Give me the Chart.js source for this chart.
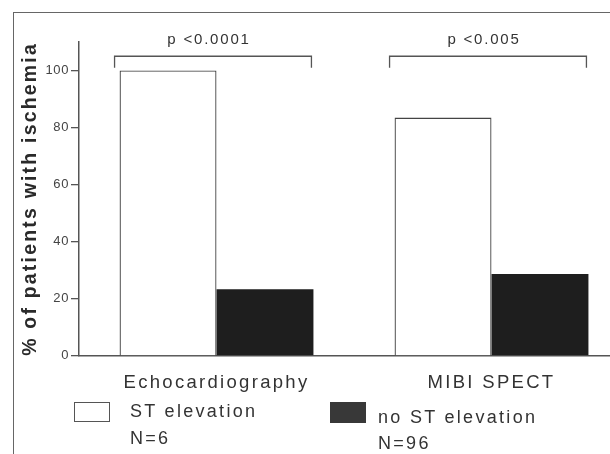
<!DOCTYPE html>
<html>
<head>
<meta charset="utf-8">
<script src="https://cdn.jsdelivr.net/npm/chart.js@4/dist/chart.umd.min.js"></script>
<style>
  html, body { margin: 0; padding: 0; background: #fff; }
  body { width: 610px; height: 454px; overflow: hidden; position: relative; font-family: "Liberation Sans", Arial, sans-serif; }
  #frame { position: absolute; left: 13px; top: 12px; width: 700px; height: 500px; border-top: 1.5px solid #666; border-left: 1.5px solid #666; }
  #wrap { position: absolute; left: 0; top: 0; width: 632px; height: 454px; }
  .leg .box { position: absolute; box-sizing: border-box; }
  .leg .txt { position: absolute; color: #333; font-size: 18px; letter-spacing: 2.3px; white-space: nowrap; }
  .leg0 .box { left: 74px; top: 402px; width: 36px; height: 20px; border: 1.5px solid #555; }
  .leg0 .txt { left: 130px; top: 397.5px; line-height: 27px; }
  .leg1 .box { left: 330px; top: 402px; width: 36px; height: 21px; }
  .leg1 .txt { left: 378px; top: 403.5px; line-height: 26px; }
</style>
</head>
<body>
<div id="frame"></div>
<div id="wrap"><canvas id="chart" width="632" height="454"></canvas></div>
<div id="legend"></div>
<script>
const categories = ['Echocardiography', 'MIBI SPECT'];
const seriesNames = ['ST elevation', 'no ST elevation'];
const seriesN = ['N=6', 'N=96'];
const stElevation = [100, 83.5];
const noStElevation = [23.3, 28.7];
const pValues = ['p <0.0001', 'p <0.005'];
const yTicks = [0, 20, 40, 60, 80, 100];

Chart.defaults.font.family = '"Liberation Sans", Arial, sans-serif';

// wide letter spacing like the old print, smaller for the y tick numbers
const spacing = {
    id: 'spacing',
    beforeLayout(chart) {
        chart.ctx.letterSpacing = '2.3px';
    },
    beforeDraw(chart) {
        chart.ctx.letterSpacing = '2.3px';
    },
    afterDatasetsDraw(chart) {
        chart.ctx.letterSpacing = '0.6px';
    }
};

const brackets = {
    id: 'brackets',
    afterDraw(chart) {
        const ctx = chart.ctx;
        const y = chart.scales.y;
        const m0 = chart.getDatasetMeta(0).data;
        const m1 = chart.getDatasetMeta(1).data;
        ctx.save();
        ctx.strokeStyle = '#555';
        ctx.lineWidth = 1.3;
        ctx.fillStyle = '#333';
        ctx.font = '15px "Liberation Sans", Arial, sans-serif';
        ctx.letterSpacing = '1.8px';
        ctx.textAlign = 'center';
        ctx.textBaseline = 'middle';
        pValues.forEach((p, i) => {
            const x1 = m0[i].x - m0[i].width / 2 - 5;
            const x2 = m1[i].x + m1[i].width / 2 - 2;
            const yTop = y.getPixelForValue(105);
            const yEnd = y.getPixelForValue(101);
            ctx.beginPath();
            ctx.moveTo(x1, yEnd);
            ctx.lineTo(x1, yTop);
            ctx.lineTo(x2, yTop);
            ctx.lineTo(x2, yEnd);
            ctx.stroke();
            ctx.fillText(p, (x1 + x2) / 2 - 4, y.getPixelForValue(110.7));
        });
        ctx.restore();
    }
};

const chart = new Chart(document.getElementById('chart'), {
    type: 'bar',
    data: {
        labels: categories,
        datasets: [{
            label: seriesNames[0],
            data: stElevation,
            backgroundColor: '#ffffff',
            borderColor: '#444',
            borderWidth: 1.3,
            borderSkipped: 'bottom'
        }, {
            label: seriesNames[1],
            data: noStElevation,
            backgroundColor: '#1e1e1e',
            borderWidth: 0
        }]
    },
    options: {
        responsive: false,
        animation: false,
        layout: {
            padding: { left: 0, top: 42, right: 3, bottom: 44 }
        },
        datasets: {
            bar: { categoryPercentage: 0.705, barPercentage: 1 }
        },
        scales: {
            x: {
                offset: true,
                grid: { display: false, drawTicks: false },
                border: { color: '#555', width: 1.5 },
                ticks: { padding: 16, color: '#333', font: { size: 18.5 }, maxRotation: 0, autoSkip: false }
            },
            y: {
                min: 0,
                max: 110,
                afterBuildTicks: (scale) => {
                    scale.ticks = yTicks.map(v => ({ value: v }));
                },
                afterFit: (scale) => {
                    scale.width = 33;
                },
                grid: { drawOnChartArea: false, drawTicks: true, tickLength: 8, color: '#555', lineWidth: 1.3 },
                border: { color: '#555', width: 1.5 },
                ticks: { z: 1, padding: 2, color: '#444', font: { size: 13 } }
            }
        },
        plugins: {
            legend: { display: false },
            tooltip: { enabled: false },
            title: {
                display: true,
                position: 'left',
                fullSize: false,
                text: '% of patients with ischemia',
                color: '#2a2a2a',
                font: { size: 20, weight: 'bold' },
                padding: { top: 18, bottom: 4 }
            }
        }
    },
    plugins: [spacing, brackets]
});

// legend as html, built from the datasets
const legendEl = document.getElementById('legend');
const legendBoxColors = ['#ffffff', '#383838'];
chart.data.datasets.forEach((ds, i) => {
    const item = document.createElement('div');
    item.className = 'leg leg' + i;
    const box = document.createElement('span');
    box.className = 'box';
    box.style.background = legendBoxColors[i];
    const txt = document.createElement('div');
    txt.className = 'txt';
    txt.innerHTML = ds.label + '<br>' + seriesN[i];
    item.appendChild(box);
    item.appendChild(txt);
    legendEl.appendChild(item);
});
</script>
</body>
</html>
